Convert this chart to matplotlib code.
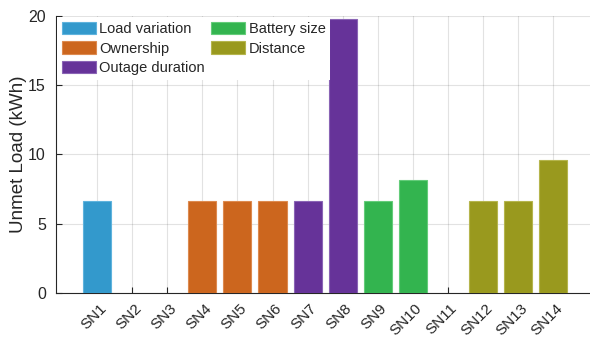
import matplotlib
matplotlib.use("Agg")
import matplotlib.pyplot as plt
from matplotlib.patches import Patch
from matplotlib.transforms import ScaledTranslation
import numpy as np

plt.rcParams['font.family'] = ['Liberation Sans', 'DejaVu Sans']

# Unmet load per scenario (kWh)
scenarios = ["SN1", "SN2", "SN3", "SN4", "SN5", "SN6", "SN7",
             "SN8", "SN9", "SN10", "SN11", "SN12", "SN13", "SN14"]
unmet_load = [6.67, 0, 0, 6.67, 6.67, 6.67, 6.67,
              19.76, 6.67, 8.16, 0, 6.67, 6.67, 9.6]
# Factor varied in each scenario
factor_of = ["Load variation"] * 3 + ["Ownership"] * 3 + ["Outage duration"] * 2 \
    + ["Battery size"] * 3 + ["Distance"] * 3

factors = ["Load variation", "Ownership", "Outage duration", "Battery size", "Distance"]
factor_colors = {
    "Load variation": "#3399cc",
    "Ownership": "#cc661e",
    "Outage duration": "#663399",
    "Battery size": "#33b44f",
    "Distance": "#99991e",
}
edge_colors = {
    "Load variation": "#5fb3dd",
    "Ownership": "#dd8a4f",
    "Outage duration": "#8a64b5",
    "Battery size": "#64cc7a",
    "Distance": "#b5b54d",
}

axis_col = "#262626"

fig = plt.figure(figsize=(5.9, 3.37), dpi=100)
ax = fig.add_axes([0.0944, 0.1306, 1 - 0.0944, 0.9525 - 0.1306])

x = np.arange(1, len(scenarios) + 1)
for xi, val, f in zip(x, unmet_load, factor_of):
    if val > 0:
        ax.bar(xi, val, width=0.8, color=factor_colors[f],
               edgecolor=edge_colors[f], linewidth=0.8, zorder=3)

ax.set_xlim(-0.18, 15.05)
ax.set_ylim(0, 20)
ax.set_yticks([0, 5, 10, 15, 20])
ax.set_xticks(x)
ax.set_xticklabels([])

# Rotated scenario names, ending just right of and below each tick
label_tf = ax.get_xaxis_transform() + ScaledTranslation(7 / 100, -13 / 100,
                                                         fig.dpi_scale_trans)
for xi, name in zip(x, scenarios):
    ax.text(xi, 0, name, transform=label_tf, rotation=45, ha="right",
            va="center", rotation_mode="anchor", fontsize=11,
            color=axis_col, clip_on=False)

ax.grid(True, color="#262626", alpha=0.13, linewidth=0.8, zorder=0)
ax.set_axisbelow(True)
for side in ("top", "right"):
    ax.spines[side].set_visible(False)
for side in ("left", "bottom"):
    ax.spines[side].set_color(axis_col)
    ax.spines[side].set_linewidth(0.8)
ax.tick_params(direction="in", length=4, width=0.8, colors=axis_col,
               labelcolor=axis_col)
ax.tick_params(axis="y", pad=7, labelsize=11.5)

ax.set_ylabel("Unmet Load (kWh)", fontsize=13.5, color=axis_col)
ax.yaxis.set_label_coords(-0.0537, 0.5)

handles = [Patch(facecolor=factor_colors[f], edgecolor=edge_colors[f],
                 linewidth=0.8, label=f) for f in factors]
leg = ax.legend(handles=handles, ncol=2, loc="upper left",
                bbox_to_anchor=(0.0, 1.0), fontsize=10.5, frameon=True,
                fancybox=False, edgecolor="none", facecolor="white", framealpha=1,
                handlelength=2.35, handleheight=0.9, handletextpad=0.25,
                columnspacing=0.4, labelspacing=0.38, borderpad=0.3,
                borderaxespad=0.1)
for t in leg.get_texts():
    t.set_color(axis_col)

fig.savefig("out.png", dpi=100)
